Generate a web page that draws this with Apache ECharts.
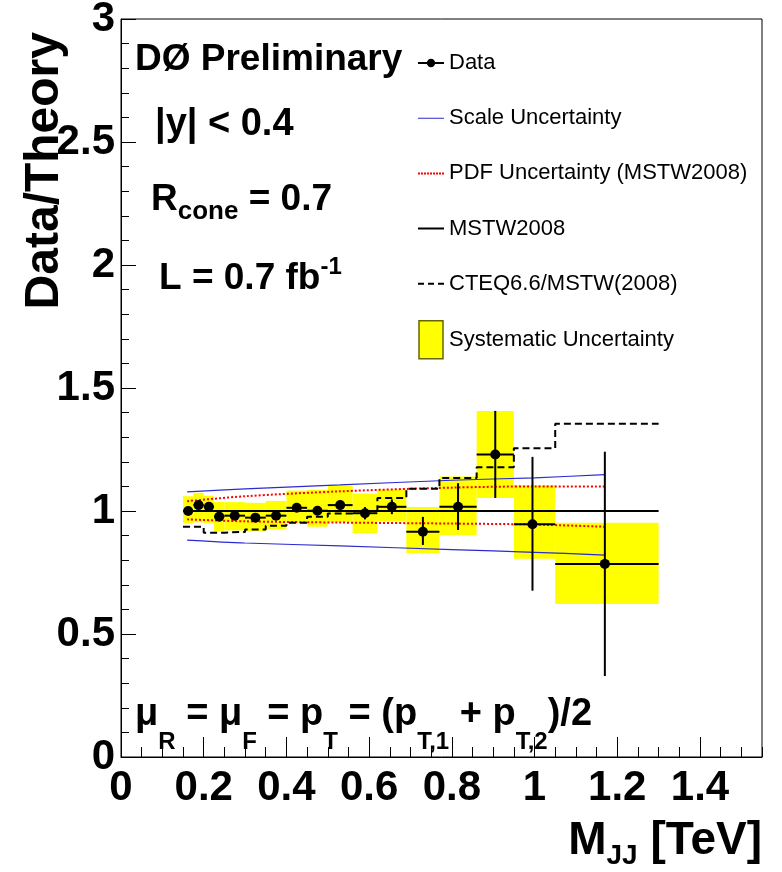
<!DOCTYPE html>
<html><head><meta charset="utf-8">
<script src="https://cdn.jsdelivr.net/npm/echarts@6/dist/echarts.min.js"></script>
<style>html,body{margin:0;padding:0;background:#fff}#c{width:782px;height:872px}</style>
</head><body><div id="c"></div>
<script>
// ---- data ----
const binLo = [0.15,0.175,0.2,0.225,0.25,0.3,0.35,0.4,0.45,0.5,0.56,0.62,0.69,0.77,0.86,0.95,1.05];
const binHi = [0.175,0.2,0.225,0.25,0.3,0.35,0.4,0.45,0.5,0.56,0.62,0.69,0.77,0.86,0.95,1.05,1.3];
const dataX = [0.1625,0.1875,0.2125,0.2375,0.275,0.325,0.375,0.425,0.475,0.53,0.59,0.655,0.73,0.815,0.905,0.995,1.17];
const dataY = [1.000,1.024,1.017,0.977,0.981,0.973,0.981,1.013,1.001,1.024,0.991,1.017,0.916,1.017,1.230,0.946,0.785];
const statUp = [0.008,0.008,0.008,0.008,0.008,0.008,0.008,0.010,0.012,0.015,0.025,0.030,0.060,0.096,0.177,0.274,0.456];
const statDn = [0.008,0.008,0.008,0.008,0.008,0.008,0.008,0.010,0.012,0.015,0.025,0.030,0.054,0.094,0.177,0.270,0.456];
const sysUp  = [0.060,0.050,0.045,0.060,0.055,0.060,0.060,0.070,0.085,0.080,0.080,0.070,0.100,0.123,0.177,0.160,0.167];
const sysDn  = [0.050,0.070,0.065,0.060,0.060,0.055,0.055,0.060,0.065,0.070,0.080,0.060,0.087,0.115,0.177,0.140,0.163];
const cteq   = [0.936,0.936,0.912,0.912,0.915,0.925,0.940,0.952,0.977,0.990,1.000,1.053,1.090,1.134,1.178,1.255,1.355];
const theoryX  = [0.16,0.30,0.53,0.80,1.00,1.17];
const scaleUp  = [1.078,1.090,1.106,1.125,1.135,1.148];
const scaleDn  = [0.882,0.870,0.858,0.843,0.832,0.821];
const pdfUp    = [1.040,1.060,1.080,1.095,1.100,1.100];
const pdfDn    = [0.966,0.958,0.953,0.949,0.945,0.936];
const mstwX = [0.15,1.3];
const mstwY = [1.0,1.0];
const xTicks = [0,0.2,0.4,0.6,0.8,1,1.2,1.4];
const yTicks = [0,0.5,1,1.5,2,2.5,3];

const FONT = '"Liberation Sans", Arial, Helvetica, sans-serif';
const chart = echarts.init(document.getElementById('c'), null, {renderer:'canvas'});

const sysData = binLo.map((lo,i)=>[lo, binHi[i], dataY[i], sysUp[i], sysDn[i]]);
const ptData = dataX.map((x,i)=>[x, dataY[i], binLo[i], binHi[i], statUp[i], statDn[i]]);
const cteqData = binLo.map((lo,i)=>[lo, cteq[i]]).concat([[binHi[binHi.length-1], cteq[cteq.length-1]]]);

const C = 'M0 0L0.01 0L0 0.01Z M26 38L25.99 38L26 37.99Z ';
let dots = '';
for (let x = 0; x < 26; x += 3) dots += `M${x} 18L${x+2} 18L${x+2} 20L${x} 20Z `;
// filled dot as a clockwise polygon joined with the line
let dot = '';
for (let k = 0; k < 16; k++) {
  const a = k / 16 * 2 * Math.PI;
  dot += (k ? 'L' : 'M') + (13 + 4.2 * Math.cos(a)).toFixed(2) + ' ' + (19 + 4.2 * Math.sin(a)).toFixed(2);
}
dot += 'Z ';
const icons = {
  data: 'path://' + C + 'M0 18L9 18L9 20L0 20Z M17 18L26 18L26 20L17 20Z ' + dot,
  scale: 'path://' + C + 'M0 18.5L26 18.5L26 19.5L0 19.5Z',
  pdf: 'path://' + C + dots,
  mstw: 'path://' + C + 'M0 18L26 18L26 20L0 20Z',
  cteq: 'path://' + C + 'M0 18L6 18L6 20L0 20Z M10 18L16 18L16 20L10 20Z M20 18L26 18L26 20L20 20Z',
  sys: 'path://M1 0L25 0L25 38L1 38Z'
};

const option = {
  backgroundColor: '#fff',
  animation: false,
  grid: {left:121, right:20, top:19, bottom:115, show:true, borderColor:'#000', borderWidth:1, outerBoundsMode:'none', containLabel:false},
  xAxis: [{
    type:'value', min:0, max:1.55, interval:0.2, position:'bottom',
    name:'{m|M}{s|JJ}{m| [TeV]}', nameLocation:'end', nameGap:0, nameMoveOverlap:false,
    nameTextStyle:{align:'right', verticalAlign:'top', padding:[58,0,0,0], color:'#000',
      rich:{m:{fontSize:46, fontWeight:'bold', fontFamily:FONT, lineHeight:52, color:'#000'},
            s:{fontSize:28, fontWeight:'bold', fontFamily:FONT, lineHeight:28, padding:[30,0,0,0], color:'#000'}}},
    axisLine:{lineStyle:{color:'#000', width:1}},
    axisTick:{inside:true, length:20, lineStyle:{color:'#000'}},
    axisLabel:{showMaxLabel:false, fontSize:42, fontWeight:'bold', fontFamily:FONT, color:'#000', margin:10,
      formatter: v => xTicks.some(t=>Math.abs(t-v)<1e-6) ? String(+v.toFixed(1)) : ''},
    splitLine:{show:false}
  },{
    type:'value', min:0, max:1.55, interval:0.05, position:'bottom',
    axisLine:{show:false}, axisTick:{inside:true, length:10, lineStyle:{color:'#000'}},
    axisLabel:{show:false}, splitLine:{show:false}
  }],
  yAxis: {
    type:'value', min:0, max:3, interval:0.5,
    name:'Data/Theory', nameLocation:'end', nameRotate:90, nameGap:-13, nameMoveOverlap:false,
    nameTextStyle:{fontSize:48, fontWeight:'bold', fontFamily:FONT, color:'#000', align:'right', verticalAlign:'bottom', padding:[0,0,52,0]},
    axisLine:{show:true, lineStyle:{color:'#000', width:1}},
    axisTick:{inside:true, length:15, lineStyle:{color:'#000'}},
    minorTick:{show:true, splitNumber:5, length:8, lineStyle:{color:'#000'}},
    axisLabel:{fontSize:42, fontWeight:'bold', fontFamily:FONT, color:'#000', margin:6,
      formatter: v => yTicks.some(t=>Math.abs(t-v)<1e-6) ? String(v) : ''},
    splitLine:{show:false}, minorSplitLine:{show:false}
  },
  legend: {
    orient:'vertical', left:413, top:39, itemWidth:26, itemHeight:38, itemGap:17.2, selectedMode:false,
    textStyle:{fontSize:22, color:'#000', fontFamily:FONT},
    itemStyle:{borderWidth:0},
    data:[
      {name:'Data', icon:icons.data},
      {name:'Scale Uncertainty', icon:icons.scale},
      {name:'PDF Uncertainty (MSTW2008)', icon:icons.pdf},
      {name:'MSTW2008', icon:icons.mstw},
      {name:'CTEQ6.6/MSTW(2008)', icon:icons.cteq},
      {name:'Systematic Uncertainty', icon:icons.sys, itemStyle:{color:'#ffff00', borderColor:'#666600', borderWidth:1.5}}
    ]
  },
  graphic: [
    {type:'text', x:135, y:60, z:100, style:{text:'DØ Preliminary', font:`bold 37px ${FONT}`, fill:'#000', verticalAlign:'middle'}},
    {type:'text', x:155, y:125, z:100, style:{text:'|y| < 0.4', font:`bold 38px ${FONT}`, fill:'#000', verticalAlign:'middle'}},
    {type:'text', x:151, y:200, z:100, style:{text:'{m|R}{s|cone}{m| = 0.7}', verticalAlign:'middle', fill:'#000',
      rich:{m:{font:`bold 37px ${FONT}`, lineHeight:44, fill:'#000'}, s:{font:`bold 26px ${FONT}`, lineHeight:26, padding:[24,0,0,0], fill:'#000'}}}},
    {type:'text', x:159, y:279, z:100, style:{text:'{m|L = 0.7 fb}{p|-1}', verticalAlign:'middle', fill:'#000',
      rich:{m:{font:`bold 37px ${FONT}`, lineHeight:44, fill:'#000'}, p:{font:`bold 24px ${FONT}`, lineHeight:24, padding:[0,0,24,0], fill:'#000'}}}},
    {type:'text', x:135, y:715, z:100, style:{text:'{m|μ}{s|R}{m| = μ}{s|F}{m| = p}{s|T}{m| = (p}{s|T,1}{m| + p}{s|T,2}{m|)/2}', verticalAlign:'middle', fill:'#000',
      rich:{m:{font:`bold 38px ${FONT}`, lineHeight:44, fill:'#000'}, s:{font:`bold 24px ${FONT}`, lineHeight:24, padding:[54,0,0,0], fill:'#000'}}}}
  ],
  series: [
    {type:'custom', name:'Systematic Uncertainty', data:sysData, encode:{x:[0,1], y:[2]}, z:1, silent:true,
     itemStyle:{color:'#ffff00'},
     renderItem:(params, api) => {
       const p1 = api.coord([api.value(0), api.value(2)+api.value(3)]);
       const p2 = api.coord([api.value(1), api.value(2)-api.value(4)]);
       return {type:'rect', shape:{x:p1[0], y:p1[1], width:p2[0]-p1[0], height:p2[1]-p1[1]}, style:{fill:'#ffff00'}};
     }},
    {type:'line', name:'Scale Uncertainty', data:theoryX.map((x,i)=>[x, scaleUp[i]]), symbol:'none', smooth:0.3, z:3,
     lineStyle:{color:'#2b2bd0', width:1.2}, itemStyle:{color:'#2b2bd0'}},
    {type:'line', name:'Scale Uncertainty', data:theoryX.map((x,i)=>[x, scaleDn[i]]), symbol:'none', smooth:0.3, z:3,
     lineStyle:{color:'#2b2bd0', width:1.2}, itemStyle:{color:'#2b2bd0'}},
    {type:'line', name:'PDF Uncertainty (MSTW2008)', data:theoryX.map((x,i)=>[x, pdfUp[i]]), symbol:'none', smooth:0.3, z:3,
     lineStyle:{color:'#ff0000', width:2, type:[2,2]}, itemStyle:{color:'#ff0000'}},
    {type:'line', name:'PDF Uncertainty (MSTW2008)', data:theoryX.map((x,i)=>[x, pdfDn[i]]), symbol:'none', smooth:0.3, z:3,
     lineStyle:{color:'#ff0000', width:2, type:[2,2]}, itemStyle:{color:'#ff0000'}},
    {type:'line', name:'MSTW2008', data:mstwX.map((x,i)=>[x, mstwY[i]]), symbol:'none', z:3,
     lineStyle:{color:'#000', width:2}, itemStyle:{color:'#000'}},
    {type:'line', name:'CTEQ6.6/MSTW(2008)', data:cteqData, step:'end', symbol:'none', z:3,
     lineStyle:{color:'#000', width:2, type:[7,4]}, itemStyle:{color:'#000'}},
    {type:'custom', name:'Data', data:ptData, encode:{x:[0], y:[1]}, z:5, silent:true,
     itemStyle:{color:'#000', borderWidth:0},
     renderItem:(params, api) => {
       const x = api.value(0), y = api.value(1);
       const c = api.coord([x,y]);
       const l = api.coord([api.value(2), y]), r = api.coord([api.value(3), y]);
       const t = api.coord([x, y+api.value(4)]), b = api.coord([x, y-api.value(5)]);
       return {type:'group', children:[
         {type:'line', shape:{x1:l[0], y1:l[1], x2:r[0], y2:r[1]}, style:{stroke:'#000', lineWidth:2}},
         {type:'line', shape:{x1:t[0], y1:t[1], x2:b[0], y2:b[1]}, style:{stroke:'#000', lineWidth:2}},
         {type:'circle', shape:{cx:c[0], cy:c[1], r:5}, style:{fill:'#000'}}
       ]};
     }}
  ]
};
chart.setOption(option);
</script>
</body></html>
